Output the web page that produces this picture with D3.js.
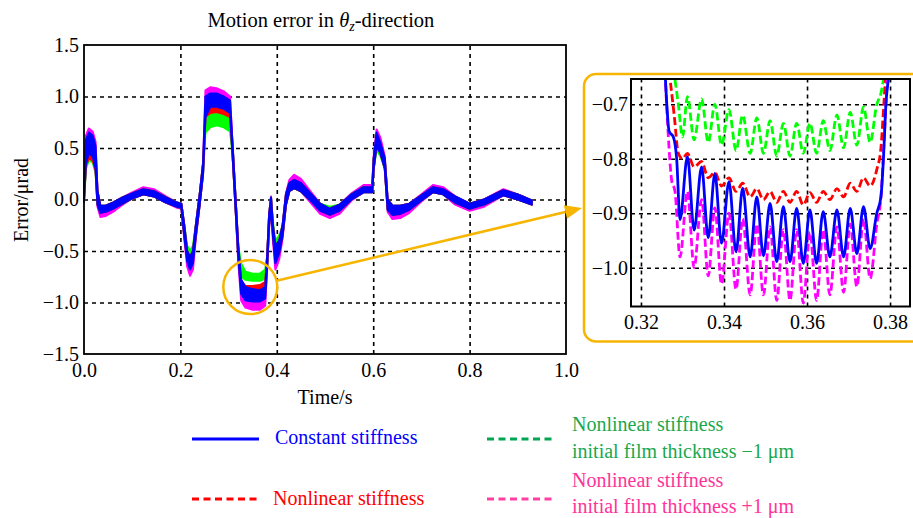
<!DOCTYPE html>
<html><head><meta charset="utf-8">
<script src="https://cdn.jsdelivr.net/npm/d3@7"></script>
<style>
body{margin:0;background:#fff;}
svg{display:block;font-family:"Liberation Serif","Times New Roman",serif;}
</style></head><body>
<svg id="chart" width="913" height="518"></svg>
<script>
// ---------- data ----------
const tMain = [0.000,0.004,0.010,0.018,0.024,0.028,0.034,0.045,0.060,0.080,
  0.100,0.123,0.145,0.170,0.193,0.202,0.208,0.214,0.220,0.226,
  0.232,0.240,0.247,0.252,0.262,0.275,0.290,0.303,0.308,0.314,
  0.320,0.326,0.335,0.350,0.365,0.376,0.380,0.384,0.388,0.392,
  0.397,0.405,0.412,0.419,0.426,0.436,0.450,0.470,0.490,0.510,
  0.530,0.555,0.580,0.598,0.601,0.607,0.615,0.624,0.630,0.640,
  0.656,0.675,0.700,0.724,0.745,0.770,0.800,0.830,0.870,0.900,
  0.929];

const blueLo = [-0.02,0.35,0.45,0.42,0.30,-0.05,-0.13,-0.12,-0.09,-0.04,
  0.01,0.05,0.03,-0.03,-0.07,-0.08,-0.35,-0.60,-0.68,-0.62,
  -0.35,-0.05,0.25,0.80,0.90,0.90,0.88,0.84,0.45,-0.05,
  -0.55,-0.92,-0.98,-0.99,-0.99,-0.96,-0.65,-0.25,-0.08,-0.35,
  -0.62,-0.52,-0.35,-0.05,0.08,0.11,0.08,-0.01,-0.11,-0.15,
  -0.11,0.00,0.07,0.07,0.30,0.52,0.45,0.30,-0.10,-0.15,
  -0.14,-0.10,-0.01,0.07,0.05,-0.03,-0.09,-0.05,0.04,0.00,
  -0.05];
const blueHi = [0.02,0.58,0.65,0.62,0.52,0.08,-0.06,-0.06,-0.03,0.02,
  0.06,0.10,0.08,0.02,-0.03,-0.04,-0.25,-0.50,-0.56,-0.50,
  -0.25,0.05,0.35,1.00,1.03,1.03,1.00,0.96,0.55,0.05,
  -0.45,-0.78,-0.85,-0.87,-0.88,-0.85,-0.55,-0.15,0.02,-0.25,
  -0.45,-0.40,-0.25,0.05,0.16,0.19,0.16,0.06,-0.04,-0.09,
  -0.05,0.05,0.12,0.12,0.40,0.65,0.55,0.40,0.00,-0.06,
  -0.06,-0.04,0.04,0.12,0.10,0.03,-0.04,0.00,0.09,0.05,
  -0.01];

const redLo = [-0.02,0.33,0.40,0.38,0.28,-0.05,-0.13,-0.12,-0.09,-0.04,
  0.01,0.05,0.03,-0.03,-0.07,-0.08,-0.35,-0.57,-0.64,-0.58,
  -0.35,-0.05,0.25,0.80,0.84,0.85,0.83,0.80,0.45,-0.05,
  -0.55,-0.86,-0.88,-0.88,-0.88,-0.86,-0.65,-0.25,-0.08,-0.35,
  -0.58,-0.52,-0.35,-0.05,0.08,0.11,0.08,-0.01,-0.11,-0.15,
  -0.11,0.00,0.07,0.07,0.30,0.52,0.45,0.30,-0.10,-0.15,
  -0.14,-0.10,-0.01,0.07,0.05,-0.03,-0.09,-0.05,0.04,0.00,
  -0.05];
const redHi = [0.02,0.50,0.56,0.54,0.45,0.08,-0.06,-0.06,-0.03,0.02,
  0.06,0.10,0.08,0.02,-0.03,-0.04,-0.25,-0.50,-0.56,-0.50,
  -0.25,0.05,0.35,0.86,0.90,0.90,0.88,0.86,0.55,0.05,
  -0.45,-0.80,-0.84,-0.84,-0.83,-0.80,-0.55,-0.15,0.02,-0.25,
  -0.45,-0.40,-0.25,0.05,0.16,0.19,0.16,0.06,-0.04,-0.09,
  -0.05,0.05,0.12,0.12,0.40,0.62,0.52,0.40,0.00,-0.06,
  -0.06,-0.04,0.04,0.12,0.10,0.03,-0.04,0.00,0.09,0.05,
  -0.01];

const greenLo = [-0.02,0.30,0.38,0.36,0.26,-0.05,-0.11,-0.10,-0.09,-0.04,
  0.01,0.05,0.03,-0.03,-0.07,-0.08,-0.35,-0.52,-0.60,-0.55,
  -0.35,-0.05,0.25,0.65,0.70,0.72,0.70,0.66,0.45,-0.05,
  -0.55,-0.75,-0.78,-0.79,-0.79,-0.77,-0.65,-0.25,-0.08,-0.30,
  -0.50,-0.45,-0.35,-0.05,0.08,0.11,0.08,-0.01,-0.09,-0.13,
  -0.11,0.00,0.07,0.07,0.30,0.48,0.42,0.30,-0.10,-0.12,
  -0.12,-0.10,-0.01,0.07,0.05,-0.03,-0.09,-0.05,0.04,0.00,
  -0.05];
const greenHi = [0.02,0.45,0.55,0.50,0.42,0.08,-0.06,-0.06,-0.03,0.02,
  0.06,0.10,0.08,0.02,-0.03,-0.04,-0.25,-0.45,-0.50,-0.45,
  -0.25,0.05,0.35,0.78,0.84,0.85,0.82,0.78,0.55,0.05,
  -0.45,-0.62,-0.70,-0.72,-0.72,-0.68,-0.55,-0.15,0.02,-0.22,
  -0.40,-0.35,-0.25,0.05,0.16,0.17,0.14,0.06,-0.04,-0.07,
  -0.05,0.05,0.12,0.12,0.40,0.60,0.50,0.40,0.00,-0.06,
  -0.06,-0.04,0.04,0.11,0.09,0.03,-0.04,0.00,0.08,0.05,
  -0.01];

const pinkLo = [-0.02,0.35,0.45,0.42,0.30,-0.07,-0.17,-0.16,-0.12,-0.05,
  0.01,0.05,0.03,-0.03,-0.08,-0.09,-0.38,-0.65,-0.74,-0.68,
  -0.38,-0.05,0.25,0.80,0.90,0.90,0.88,0.84,0.45,-0.05,
  -0.60,-0.98,-1.05,-1.07,-1.07,-1.03,-0.68,-0.28,-0.10,-0.40,
  -0.68,-0.58,-0.38,-0.05,0.08,0.11,0.08,-0.03,-0.14,-0.18,
  -0.14,-0.01,0.07,0.07,0.30,0.52,0.45,0.30,-0.12,-0.19,
  -0.18,-0.13,-0.02,0.07,0.05,-0.05,-0.11,-0.07,0.04,0.00,
  -0.05];
const pinkHi = [0.02,0.62,0.69,0.66,0.56,0.08,-0.06,-0.06,-0.03,0.02,
  0.07,0.12,0.10,0.03,-0.03,-0.04,-0.25,-0.50,-0.56,-0.50,
  -0.25,0.05,0.35,1.06,1.09,1.08,1.05,1.00,0.55,0.05,
  -0.45,-0.78,-0.85,-0.87,-0.88,-0.85,-0.55,-0.15,0.03,-0.25,
  -0.45,-0.40,-0.25,0.06,0.19,0.24,0.20,0.08,-0.04,-0.09,
  -0.05,0.06,0.14,0.14,0.42,0.68,0.60,0.42,0.00,-0.06,
  -0.06,-0.04,0.05,0.14,0.12,0.03,-0.04,0.00,0.10,0.05,
  -0.01];

// zoomed window (t, value)
const insetBlue = [[0.3258,-0.64],[0.3268,-0.75],[0.3278,-0.76],[0.3286,-0.80],[0.3294,-0.912],
  [0.3312,-0.796],[0.3328,-0.931],[0.3346,-0.815],[0.3362,-0.945],[0.3378,-0.827],
  [0.3394,-0.955],[0.3412,-0.842],[0.3429,-0.971],[0.3445,-0.854],[0.3463,-0.98],
  [0.3479,-0.87],[0.3495,-0.978],[0.3511,-0.882],[0.3527,-0.989],[0.3543,-0.888],
  [0.3559,-0.989],[0.3575,-0.891],[0.3591,-0.992],[0.3607,-0.894],[0.3623,-0.992],
  [0.3639,-0.897],[0.3655,-0.98],[0.3672,-0.894],[0.3688,-0.98],[0.3704,-0.891],
  [0.3720,-0.974],[0.3736,-0.888],[0.3752,-0.965],[0.3768,-0.90],[0.3778,-0.87],
  [0.3784,-0.80],[0.3790,-0.70],[0.3800,-0.64]];
const insetRed = [[0.3268,-0.64],[0.3280,-0.72],[0.3290,-0.79],[0.3300,-0.80],[0.3312,-0.79],
  [0.3328,-0.815],[0.3346,-0.805],[0.3362,-0.835],[0.3378,-0.825],[0.3394,-0.85],
  [0.3412,-0.835],[0.3429,-0.86],[0.3445,-0.845],[0.3463,-0.87],[0.3479,-0.855],
  [0.3495,-0.875],[0.3511,-0.86],[0.3527,-0.88],[0.3543,-0.86],[0.3559,-0.88],
  [0.3575,-0.86],[0.3591,-0.885],[0.3607,-0.862],[0.3623,-0.88],[0.3639,-0.86],
  [0.3655,-0.875],[0.3672,-0.855],[0.3688,-0.87],[0.3704,-0.845],[0.3720,-0.86],
  [0.3736,-0.835],[0.3752,-0.85],[0.3768,-0.82],[0.3778,-0.78],[0.3785,-0.70],[0.3790,-0.64]];
const insetGreen = [[0.3282,-0.655],[0.3290,-0.70],[0.3300,-0.76],[0.3312,-0.686],[0.3328,-0.765],
  [0.3346,-0.69],[0.3362,-0.77],[0.3378,-0.70],[0.3394,-0.775],[0.3412,-0.71],
  [0.3429,-0.785],[0.3445,-0.72],[0.3463,-0.79],[0.3479,-0.725],[0.3495,-0.79],
  [0.3511,-0.73],[0.3527,-0.795],[0.3543,-0.735],[0.3559,-0.795],[0.3575,-0.735],
  [0.3591,-0.79],[0.3607,-0.735],[0.3623,-0.79],[0.3639,-0.73],[0.3655,-0.785],
  [0.3672,-0.72],[0.3688,-0.78],[0.3704,-0.715],[0.3720,-0.775],[0.3736,-0.705],
  [0.3752,-0.77],[0.3768,-0.70],[0.3778,-0.68],[0.3784,-0.655]];
const insetPink = [[0.3258,-0.64],[0.3266,-0.76],[0.3274,-0.84],[0.3282,-0.86],[0.3294,-0.98],
  [0.3312,-0.86],[0.3328,-1.00],[0.3346,-0.875],[0.3362,-1.015],[0.3378,-0.89],
  [0.3394,-1.03],[0.3412,-0.90],[0.3429,-1.04],[0.3445,-0.91],[0.3463,-1.05],
  [0.3479,-0.92],[0.3495,-1.05],[0.3511,-0.925],[0.3527,-1.06],[0.3543,-0.93],
  [0.3559,-1.06],[0.3575,-0.93],[0.3591,-1.065],[0.3607,-0.935],[0.3623,-1.06],
  [0.3639,-0.93],[0.3655,-1.05],[0.3672,-0.925],[0.3688,-1.045],[0.3704,-0.92],
  [0.3720,-1.035],[0.3736,-0.91],[0.3752,-1.02],[0.3768,-0.92],[0.3778,-0.87],
  [0.3786,-0.76],[0.3794,-0.64]];

const xTicksMain = [0, 0.2, 0.4, 0.6, 0.8, 1.0];
const yTicksMain = [-1.5, -1.0, -0.5, 0, 0.5, 1.0, 1.5];
const xTicksInset = [0.32, 0.34, 0.36, 0.38];
const yTicksInset = [-1.0, -0.9, -0.8, -0.7];
const seriesNames = ["Constant stiffness", "Nonlinear stiffness",
  "Nonlinear stiffness|initial film thickness \u22121 \u03bcm",
  "Nonlinear stiffness|initial film thickness +1 \u03bcm"];
const zoomCenter = [0.345, -0.85];

// ---------- drawing ----------
const svg = d3.select("#chart");
const fmt = (d, n) => d.toFixed(n).replace("-", "\u2212");
const colBlue = "#0000ff", colRed = "#ff0000", colGreen = "#00ff00", colPink = "#ff00ff";
const orange = "#f7b500";

const M = {l: 84, r: 566, t: 45, b: 354};
const x = d3.scaleLinear().domain([0, 1]).range([M.l, M.r]);
const y = d3.scaleLinear().domain([-1.5, 1.5]).range([M.b, M.t]);

// grid
const g = svg.append("g");
g.append("g").attr("transform", `translate(0,${M.b})`)
  .call(d3.axisBottom(x).tickValues(xTicksMain.slice(1, -1)).tickSize(-(M.b - M.t)).tickFormat(""))
  .call(a => a.select(".domain").remove())
  .selectAll("line").attr("stroke", "#000").attr("stroke-width", 1.6).attr("stroke-dasharray", "4,4");
g.append("g").attr("transform", `translate(${M.l},0)`)
  .call(d3.axisLeft(y).tickValues(yTicksMain.slice(1, -1)).tickSize(-(M.r - M.l)).tickFormat(""))
  .call(a => a.select(".domain").remove())
  .selectAll("line").attr("stroke", "#000").attr("stroke-width", 1.6).attr("stroke-dasharray", "4,4");

// series bands
const idx = d3.range(tMain.length);
const mainSeries = [
  {lo: pinkLo, hi: pinkHi, c: colPink},
  {lo: greenLo, hi: greenHi, c: colGreen},
  {lo: redLo, hi: redHi, c: colRed},
  {lo: blueLo, hi: blueHi, c: colBlue}
];
mainSeries.forEach(s => {
  const area = d3.area().x(i => x(tMain[i])).y0(i => y(s.lo[i])).y1(i => y(s.hi[i]));
  g.append("path").attr("d", area(idx)).attr("fill", s.c)
    .attr("stroke", s.c).attr("stroke-width", 2).attr("stroke-linejoin", "round");
});

// frame
g.append("rect").attr("x", M.l).attr("y", M.t).attr("width", M.r - M.l).attr("height", M.b - M.t)
  .attr("fill", "none").attr("stroke", "#000").attr("stroke-width", 1.8);

// tick labels
const axB = g.append("g").attr("transform", `translate(0,${M.b})`)
  .call(d3.axisBottom(x).tickValues(xTicksMain).tickSize(0).tickPadding(9).tickFormat(d => fmt(d, 1)));
axB.select(".domain").remove();
axB.selectAll("text").attr("font-size", 20).attr("font-family", "Liberation Serif").attr("fill", "#000");
const axL = g.append("g").attr("transform", `translate(${M.l},0)`)
  .call(d3.axisLeft(y).tickValues(yTicksMain).tickSize(0).tickPadding(5).tickFormat(d => fmt(d, 1)));
axL.select(".domain").remove();
axL.selectAll("text").attr("font-size", 20).attr("font-family", "Liberation Serif").attr("fill", "#000");

// titles
const title = svg.append("text").attr("x", 321).attr("y", 27).attr("text-anchor", "middle")
  .attr("font-size", 20.5).attr("fill", "#000");
title.append("tspan").text("Motion error in ");
title.append("tspan").attr("font-style", "italic").text("\u03b8");
title.append("tspan").attr("font-style", "italic").attr("font-size", 14).attr("dy", 4).text("z");
title.append("tspan").attr("dy", -4).text("-direction");
svg.append("text").attr("x", 325).attr("y", 404).attr("text-anchor", "middle")
  .attr("font-size", 20).text("Time/s");
svg.append("text").attr("transform", "translate(28,200) rotate(-90)").attr("text-anchor", "middle")
  .attr("font-size", 20).text("Error/\u03bcrad");

// ---------- inset ----------
const I = {l: 631, r: 910, t: 79, b: 306.5};
const xi = d3.scaleLinear().domain([0.3176, 0.3848]).range([I.l, I.r]);
const yi = d3.scaleLinear().domain([-1.0712, -0.6536]).range([I.b, I.t]);

svg.append("rect").attr("x", 584).attr("y", 74).attr("width", 345).attr("height", 267.5)
  .attr("rx", 12).attr("fill", "#fff").attr("stroke", orange).attr("stroke-width", 2.5);

const gi = svg.append("g");
gi.append("g").attr("transform", `translate(0,${I.b})`)
  .call(d3.axisBottom(xi).tickValues(xTicksInset).tickSize(-(I.b - I.t)).tickFormat(""))
  .call(a => a.select(".domain").remove())
  .selectAll("line").attr("stroke", "#000").attr("stroke-width", 1.6).attr("stroke-dasharray", "4,4");
gi.append("g").attr("transform", `translate(${I.l},0)`)
  .call(d3.axisLeft(yi).tickValues(yTicksInset).tickSize(-(I.r - I.l)).tickFormat(""))
  .call(a => a.select(".domain").remove())
  .selectAll("line").attr("stroke", "#000").attr("stroke-width", 1.6).attr("stroke-dasharray", "4,4");

svg.append("clipPath").attr("id", "ic").append("rect")
  .attr("x", I.l).attr("y", I.t).attr("width", I.r - I.l).attr("height", I.b - I.t);
const lineI = d3.line().x(d => xi(d[0])).y(d => yi(d[1])).curve(d3.curveMonotoneX);
const gc = gi.append("g").attr("clip-path", "url(#ic)");
[[insetGreen, colGreen, "8,3.5"], [insetRed, colRed, "8,3.5"], [insetPink, colPink, "8,3.5"], [insetBlue, colBlue, null]]
  .forEach(([data, c, dash]) => {
    const p = gc.append("path").attr("d", lineI(data)).attr("fill", "none").attr("stroke", c)
      .attr("stroke-width", 2.8).attr("stroke-linejoin", "round");
    if (dash) p.attr("stroke-dasharray", dash);
  });
gi.append("rect").attr("x", I.l).attr("y", I.t).attr("width", I.r - I.l).attr("height", I.b - I.t)
  .attr("fill", "none").attr("stroke", "#000").attr("stroke-width", 2);

const aiB = gi.append("g").attr("transform", `translate(0,${I.b})`)
  .call(d3.axisBottom(xi).tickValues(xTicksInset).tickSize(0).tickPadding(8).tickFormat(d => fmt(d, 2)));
aiB.select(".domain").remove();
aiB.selectAll("text").attr("font-size", 20).attr("font-family", "Liberation Serif").attr("fill", "#000");
const aiL = gi.append("g").attr("transform", `translate(${I.l},0)`)
  .call(d3.axisLeft(yi).tickValues(yTicksInset).tickSize(0).tickPadding(3).tickFormat(d => fmt(d, 1)));
aiL.select(".domain").remove();
aiL.selectAll("text").attr("font-size", 20).attr("font-family", "Liberation Serif").attr("fill", "#000");

// ---------- zoom annotation ----------
const cx = x(zoomCenter[0]), cy = y(zoomCenter[1]), cr = 27;
svg.append("circle").attr("cx", cx).attr("cy", cy).attr("r", cr)
  .attr("fill", "none").attr("stroke", orange).attr("stroke-width", 2.5);
const tip = [582, 208];
const ang = Math.atan2(tip[1] - cy, tip[0] - cx);
const start = [cx + cr * Math.cos(ang), cy + cr * Math.sin(ang)];
const hl = 17, hw = 7;
const base = [tip[0] - hl * Math.cos(ang), tip[1] - hl * Math.sin(ang)];
svg.append("line").attr("x1", start[0]).attr("y1", start[1]).attr("x2", base[0]).attr("y2", base[1])
  .attr("stroke", orange).attr("stroke-width", 2.5);
svg.append("polygon").attr("fill", orange).attr("points", [
  tip,
  [base[0] + hw * Math.sin(ang), base[1] - hw * Math.cos(ang)],
  [base[0] - hw * Math.sin(ang), base[1] + hw * Math.cos(ang)]
].map(p => p.join(",")).join(" "));

// ---------- legend ----------
const legend = [
  {name: seriesNames[0], line: "#0000ff", text: "#0000ff", dash: null, lx: 192, ly: 439, tx: 275, ty: [444]},
  {name: seriesNames[1], line: "#ff0000", text: "#ff0000", dash: "7,4.5", lx: 192, ly: 499, tx: 273, ty: [505]},
  {name: seriesNames[2], line: "#00a651", text: "#1aa84e", dash: "7,4.5", lx: 487, ly: 439, tx: 572, ty: [431, 458]},
  {name: seriesNames[3], line: "#ff3fa4", text: "#ff3399", dash: "7,4.5", lx: 487, ly: 499, tx: 572, ty: [487, 513]}
];
legend.forEach(l => {
  const ln = svg.append("line").attr("x1", l.lx).attr("x2", l.lx + 67).attr("y1", l.ly).attr("y2", l.ly)
    .attr("stroke", l.line).attr("stroke-width", 3);
  if (l.dash) ln.attr("stroke-dasharray", l.dash);
  l.name.split("|").forEach((s, i) => {
    svg.append("text").attr("x", l.tx).attr("y", l.ty[i]).attr("font-size", 20)
      .attr("fill", l.text).text(s);
  });
});
</script>
</body></html>
